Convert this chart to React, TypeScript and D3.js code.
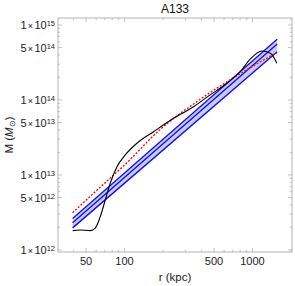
import React, { useEffect, useRef } from "react";
import * as d3 from "d3";

// black curve (measured mass profile)
const blackR = [39.3, 45.1, 54.0, 59.0, 64.6, 70.7, 77.3, 87.3, 101.3, 124.9, 168.6, 241.6, 346, 467, 631, 801, 960, 1180, 1380, 1552];
const blackM = [1.81e12, 1.85e12, 1.81e12, 1.95e12, 2.78e12, 4.64e12, 7.75e12, 1.29e13, 1.85e13, 2.65e13, 3.78e13, 5.7e13, 8.14e13, 1.17e14, 1.67e14, 2.38e14, 3.5e14, 4.5e14, 4.2e14, 3.08e14];

// red dotted fit
const redR = [39.3, 57.3, 104.4, 190, 346, 631, 1148, 1549];
const redM = [3.14e12, 5.7e12, 1.46e13, 4.06e13, 8.85e13, 1.75e14, 3.21e14, 4.28e14];

// blue band (power law with spread)
const bandR = [39.3, 1560];
const bandMid = [2.31e12, 5.58e14];
const bandLo = [1.97e12, 4.41e14];
const bandHi = [2.63e12, 6.44e14];

// ticks
const xMajor = [50, 100, 500, 1000];
const xMinor = [40, 60, 70, 80, 90, 200, 300, 400, 600, 700, 800, 900, 2000];
const yMajor = [1e12, 5e12, 1e13, 5e13, 1e14, 5e14, 1e15];
const yMinor = [2e12, 3e12, 4e12, 6e12, 7e12, 8e12, 9e12, 2e13, 3e13, 4e13, 6e13, 7e13, 8e13, 9e13, 2e14, 3e14, 4e14, 6e14, 7e14, 8e14, 9e14];

const title = "A133";

const W = 295, H = 286;
const margin = { top: 18, right: 3, bottom: 34, left: 58 };
const FONT = "'Liberation Sans', Arial, sans-serif";

export default function App() {
  const ref = useRef<SVGSVGElement>(null);

  useEffect(() => {
    const svg = d3.select(ref.current);
    svg.selectAll("*").remove();

    const x0 = margin.left, x1 = W - margin.right;
    const y0 = margin.top, y1 = H - margin.bottom;

    const x = d3.scaleLog().domain([30.2, 2036]).range([x0, x1]);
    const y = d3.scaleLog().domain([Math.pow(10, 11.973), Math.pow(10, 15.0933)]).range([y1, y0]);

    const g = svg.append("g");

    // band fill
    const bandData = bandR.map((r, i) => ({ r, lo: bandLo[i], hi: bandHi[i], mid: bandMid[i] }));
    g.append("path")
      .datum(bandData)
      .attr("d", d3.area<any>().x(d => x(d.r)).y0(d => y(d.lo)).y1(d => y(d.hi)))
      .attr("fill", "#c9cbf6");

    const line = d3.line<[number, number]>().x(d => x(d[0])).y(d => y(d[1]));
    [bandLo, bandMid, bandHi].forEach(arr => {
      g.append("path")
        .datum(bandR.map((r, i) => [r, arr[i]] as [number, number]))
        .attr("d", line)
        .attr("fill", "none")
        .attr("stroke", "#1010f0")
        .attr("stroke-width", 1.4);
    });

    const smooth = line.curve(d3.curveMonotoneX);

    // red dotted
    g.append("path")
      .datum(redR.map((r, i) => [r, redM[i]] as [number, number]))
      .attr("d", smooth)
      .attr("fill", "none")
      .attr("stroke", "#f01010")
      .attr("stroke-width", 1.4)
      .attr("stroke-dasharray", "2,1.6");

    // black
    g.append("path")
      .datum(blackR.map((r, i) => [r, blackM[i]] as [number, number]))
      .attr("d", smooth)
      .attr("fill", "none")
      .attr("stroke", "#000")
      .attr("stroke-width", 1.1);

    // frame
    const frameCol = "#b4b4b4";
    g.append("rect")
      .attr("x", x0).attr("y", y0)
      .attr("width", x1 - x0).attr("height", y1 - y0)
      .attr("fill", "none").attr("stroke", frameCol).attr("stroke-width", 1);

    const ticks = g.append("g").attr("stroke", frameCol).attr("stroke-width", 0.8);
    const xt = [...xMajor.map(v => ({ v, len: 4 })), ...xMinor.map(v => ({ v, len: 2.2 }))];
    xt.forEach(t => {
      const px = x(t.v);
      ticks.append("line").attr("x1", px).attr("x2", px).attr("y1", y1).attr("y2", y1 - t.len);
      ticks.append("line").attr("x1", px).attr("x2", px).attr("y1", y0).attr("y2", y0 + t.len);
    });
    const yt = [...yMajor.map(v => ({ v, len: 4 })), ...yMinor.map(v => ({ v, len: 2.2 }))];
    yt.forEach(t => {
      const py = y(t.v);
      ticks.append("line").attr("y1", py).attr("y2", py).attr("x1", x0).attr("x2", x0 + t.len);
      ticks.append("line").attr("y1", py).attr("y2", py).attr("x1", x1).attr("x2", x1 - t.len);
    });

    // x tick labels
    xMajor.forEach(v => {
      g.append("text")
        .attr("x", x(v)).attr("y", 264.5)
        .attr("text-anchor", "middle")
        .attr("font-family", FONT).attr("font-size", 11)
        .attr("fill", "#222")
        .text(String(v));
    });

    // y tick labels
    yMajor.forEach(v => {
      const e = Math.floor(Math.log10(v) + 1e-9);
      const m = Math.round(v / Math.pow(10, e));
      const t = g.append("text")
        .attr("x", x0 - 3).attr("y", y(v) + 4)
        .attr("text-anchor", "end")
        .attr("font-family", FONT).attr("font-size", 11)
        .attr("fill", "#222");
      t.append("tspan").text(String(m));
      t.append("tspan").attr("dx", 1.3).attr("font-size", 9).text("×");
      t.append("tspan").attr("dx", 1.3).text("10");
      t.append("tspan").attr("dy", -3).attr("font-size", 7.5).text(String(e));
    });

    // title
    svg.append("text")
      .attr("x", (x0 + x1) / 2).attr("y", 12.5)
      .attr("text-anchor", "middle")
      .attr("font-family", FONT).attr("font-size", 12)
      .attr("fill", "#111")
      .text(title);

    // x label
    svg.append("text")
      .attr("x", (x0 + x1) / 2).attr("y", 280.5)
      .attr("text-anchor", "middle")
      .attr("font-family", FONT).attr("font-size", 11.5)
      .attr("fill", "#222")
      .text("r (kpc)");

    // y label
    const yl = svg.append("text")
      .attr("transform", `translate(12.5, ${(y0 + y1) / 2}) rotate(-90)`)
      .attr("text-anchor", "middle")
      .attr("font-family", FONT).attr("font-size", 11.5)
      .attr("fill", "#222");
    yl.append("tspan").text("M (");
    yl.append("tspan").attr("font-style", "italic").text("M");
    yl.append("tspan").attr("dy", 2.5).attr("font-size", 8).text("⊙");
    yl.append("tspan").attr("dy", -2.5).text(")");
  }, []);

  return (
    <svg
      ref={ref}
      width={W}
      height={H}
      style={{ position: "absolute", left: 0, top: 0, background: "#fff" }}
    />
  );
}
